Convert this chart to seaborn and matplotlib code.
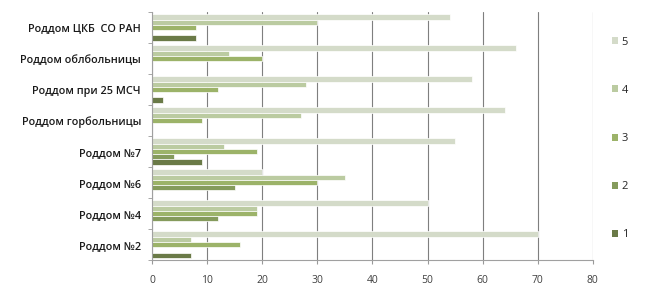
import matplotlib
matplotlib.use("Agg")
import matplotlib.pyplot as plt
import seaborn as sns
import pandas as pd
from matplotlib.ticker import FixedLocator

categories = ["Роддом ЦКБ  СО РАН", "Роддом облбольницы", "Роддом при 25 МСЧ",
              "Роддом горбольницы", "Роддом №7", "Роддом №6", "Роддом №4", "Роддом №2"]
s1 = [8, 0, 2, 0, 9, 0, 0, 7]
s2 = [0, 0, 0, 0, 4, 15, 12, 0]
s3 = [8, 20, 12, 9, 19, 30, 19, 16]
s4 = [30, 14, 28, 27, 13, 35, 19, 7]
s5 = [54, 66, 58, 64, 55, 20, 50, 70]
series_names = ["5", "4", "3", "2", "1"]
x_ticks = [0, 10, 20, 30, 40, 50, 60, 70, 80]

series = {"1": s1, "2": s2, "3": s3, "4": s4, "5": s5}
rows = []
for name, vals in series.items():
    for c, v in zip(categories, vals):
        rows.append({"cat": c, "series": name, "value": v})
df = pd.DataFrame(rows)

palette = {"5": "#d5dec6", "4": "#bdd29a", "3": "#a0c05c", "2": "#88a552", "1": "#6d833e"}

sns.set_style("white")
plt.rcParams['font.family'] = ['Open Sans', 'DejaVu Sans']

fig = plt.figure(figsize=(6.5, 3.0), dpi=100)
ax = fig.add_axes([0.234, 0.133, 0.678, 0.827])

sns.barplot(data=df, y="cat", x="value", hue="series", order=categories,
            hue_order=series_names, palette=palette, orient="h", width=0.85,
            edgecolor="white", linewidth=0.5, ax=ax, errorbar=None)

ax.set_xlim(0, 80)
ax.set_xticks(x_ticks)
ax.set_xticklabels([str(t) for t in x_ticks], fontsize=7.5, color="#404040")
ax.set_ylabel("")
ax.set_xlabel("")
ax.set_ylim(len(categories) - 0.5, -0.5)
ax.set_yticks(list(range(len(categories))))
ax.set_yticklabels(categories, fontsize=7.8, color="#1a1a1a", fontweight="semibold")
ax.tick_params(axis="y", length=0, pad=8)
ax.tick_params(axis="x", length=3, color="#999999", pad=8, direction="out", bottom=True)
ax.yaxis.set_minor_locator(FixedLocator([i - 0.5 for i in range(len(categories) + 1)]))
ax.tick_params(axis="y", which="minor", length=3, color="#999999", left=True)
ax.set_axisbelow(True)
ax.xaxis.grid(True, color="#7f7f7f", linewidth=0.8)
ax.yaxis.grid(False)
for s in ["top", "right"]:
    ax.spines[s].set_visible(False)
for s in ["left", "bottom"]:
    ax.spines[s].set_color("#a0a0a0")
    ax.spines[s].set_linewidth(0.8)

leg = ax.legend(loc="center left", bbox_to_anchor=(1.02, 0.49), frameon=False,
                fontsize=8, labelspacing=3.35, handlelength=0.6, handleheight=0.6,
                handletextpad=0.3)
for h in leg.legend_handles:
    h.set_edgecolor("none")

fig.savefig("out.png", dpi=100)
